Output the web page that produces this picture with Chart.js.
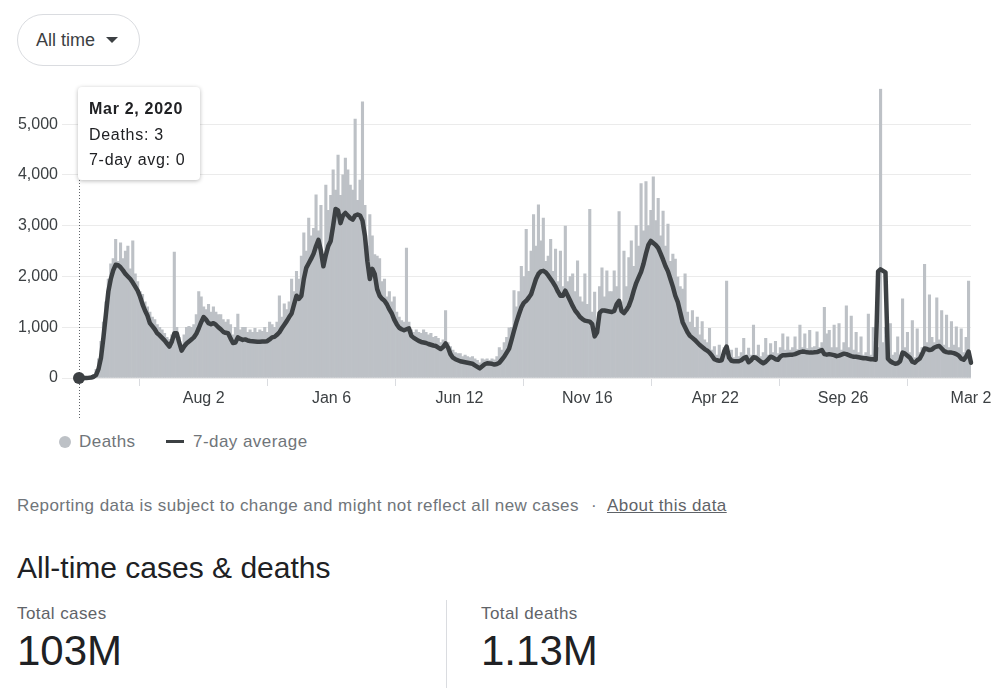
<!DOCTYPE html>
<html>
<head>
<meta charset="utf-8">
<title>Deaths</title>
<script src="https://cdn.jsdelivr.net/npm/chart.js@4.4.0/dist/chart.umd.min.js"></script>
<style>
  body {
    margin: 0;
    width: 1003px;
    height: 688px;
    position: relative;
    overflow: hidden;
    background: #fff;
    font-family: Arial, 'Liberation Sans', sans-serif;
  }
  .abs { position: absolute; white-space: nowrap; line-height: 1; }
  #range {
    left: 17px; top: 14px; width: 121px; height: 50px;
    border: 1px solid #dadce0; border-radius: 26px;
  }
  #range span { position: absolute; left: 18px; top: 16px; font-size: 18px; color: #3c4043; line-height: 1; }
  #range i {
    position: absolute; left: 88px; top: 22px; width: 0; height: 0;
    border-left: 6px solid transparent; border-right: 6px solid transparent;
    border-top: 6px solid #3c4043;
  }
  #wrap { position: absolute; left: 0; top: 75px; width: 1003px; height: 347px; }
  #tip {
    position: absolute; top: 87px; display: none;
    width: 122px; box-sizing: border-box;
    padding: 9px 11px 7px 11px;
    background: #fff; border-radius: 4px;
    box-shadow: 0 1px 4px rgba(0,0,0,0.28);
    color: #202124; font-size: 16px; line-height: 25.7px; white-space: nowrap;
    letter-spacing: 0.7px;
  }
  #tip .tt-title { font-weight: bold; }
  .legend-dot { position: absolute; left: 59px; top: 436px; width: 12px; height: 12px; border-radius: 50%; }
  .legend-line { position: absolute; left: 166px; top: 440px; width: 18px; height: 3px; }
  .legend-text { font-size: 17px; color: #70757a; letter-spacing: 0.45px; }
  .note { font-size: 17px; letter-spacing: 0.42px; }
</style>
</head>
<body>

<div id="range" class="abs"><span>All time</span><i></i></div>

<div id="wrap"><canvas id="deathsChart" width="1003" height="347"></canvas></div>
<div id="tip"></div>

<div id="legend"></div>

<div class="abs note" style="left:17px; top:497px; color:#70757a;">Reporting data is subject to change and might not reflect all new cases</div>
<div class="abs note" style="left:591px; top:497px; color:#70757a;">·</div>
<div class="abs note" style="left:607px; top:497px; color:#5f6368; text-decoration:underline;">About this data</div>

<div class="abs" style="left:17px; top:553px; font-size:30px; color:#202124;">All-time cases &amp; deaths</div>

<div class="abs note" style="left:17px; top:605px; color:#5f6368;">Total cases</div>
<div class="abs" style="left:17px; top:630px; font-size:42px; color:#202124;">103M</div>

<div class="abs" style="left:446px; top:600px; width:1px; height:88px; background:#dadce0;"></div>

<div class="abs note" style="left:481px; top:605px; color:#5f6368;">Total deaths</div>
<div class="abs" style="left:481px; top:630px; font-size:42px; color:#202124;">1.13M</div>

<script>
// One value every 3 days, starting Mar 2, 2020
const startDate = new Date(2020, 2, 2);
const binDays = 3;

// Daily deaths (visual top of the bars in each 3-day step)
const deaths = [
    3, 4, 6, 9, 15, 28, 70, 170, 380, 720,
    1100, 1500, 1950, 2250, 2350, 2730, 2300, 2660, 2350, 2500,
    2600, 2150, 2700, 2050, 1900, 1700, 1650, 1500, 1400, 1300,
    1200, 1150, 1050, 1000, 950, 880, 800, 760, 850, 2480,
    1000, 800, 620, 850, 1000, 1020, 1000, 1050, 1250, 1700,
    1600, 1400, 1350, 1450, 1300, 1400, 1300, 1250, 1250, 1150,
    1100, 1150, 1050, 850, 1000, 1260, 950, 1000, 1000, 900,
    950, 900, 980, 900, 950, 920, 1000, 900, 1100, 1050,
    1000, 1100, 1620, 1200, 1460, 1350, 1500, 1950, 1700, 2100,
    1950, 2400, 2860, 2500, 3150, 2800, 2950, 3610, 2900, 3400,
    2300, 3800, 3300, 3600, 4100, 3700, 4390, 3600, 4000, 4330,
    4100, 3800, 3700, 5100, 3500, 3900, 5440, 3400, 2600, 3220,
    2800, 2430, 2400, 2350, 1900, 1950, 1600, 1700, 1500, 1600,
    1300, 1200, 1130, 1100, 2560, 1100, 950, 900, 950, 900,
    880, 950, 900, 850, 880, 800, 820, 780, 700, 750,
    1330, 700, 620, 550, 500, 480, 480, 420, 450, 420,
    400, 420, 380, 350, 300, 380, 360, 380, 350, 380,
    360, 420, 600, 550, 700, 800, 990, 1000, 1720, 1400,
    1700, 2200, 2000, 2930, 2100, 2500, 3220, 2600, 3410, 2700,
    3150, 2300, 2400, 2730, 2100, 2540, 1900, 2500, 1800, 2990,
    1900, 2000, 2050, 1700, 2310, 1600, 1500, 2050, 1450, 3320,
    1300, 1690, 1100, 1800, 2170, 1600, 2110, 1700, 1700, 2110,
    1800, 3280, 1500, 2500, 1800, 2370, 2700, 2200, 3000, 2600,
    3830, 2900, 3870, 3000, 3300, 3960, 3100, 3540, 2800, 3290,
    2600, 3030, 2300, 2440, 2340, 1990, 1800, 1750, 2050, 1300,
    1100, 1330, 1000, 1200, 850, 1110, 750, 700, 980, 550,
    620, 450, 650, 420, 600, 1910, 450, 550, 400, 590,
    420, 500, 780, 450, 590, 450, 1040, 450, 650, 420,
    500, 780, 450, 680, 500, 720, 480, 600, 870, 550,
    810, 550, 600, 810, 560, 1040, 600, 870, 580, 940,
    600, 620, 910, 600, 700, 1390, 870, 940, 600, 1040,
    600, 1070, 550, 700, 1420, 600, 1220, 550, 900, 500,
    810, 450, 500, 1260, 450, 1000, 400, 600, 5690, 700,
    1000, 500, 1070, 450, 500, 810, 450, 1560, 600, 900,
    500, 1130, 400, 970, 500, 600, 2240, 700, 1640, 800,
    700, 1580, 750, 1330, 650, 1240, 600, 1110, 650, 1010,
    600, 970, 500, 800, 1910, 300
];

// 7-day average, same steps
const avg7 = [
    0, 0, 1, 2, 5, 10, 25, 60, 180, 400,
    800, 1250, 1700, 1950, 2120, 2230, 2220, 2180, 2120, 2050,
    2000, 1950, 1880, 1800, 1720, 1600, 1450, 1330, 1230, 1080,
    1020, 960, 880, 840, 790, 740, 680, 620, 720, 880,
    880, 700, 540, 620, 680, 720, 760, 800, 870, 980,
    1100, 1200, 1150, 1080, 1060, 1080, 1050, 1000, 960, 910,
    890, 880, 780, 690, 700, 800, 770, 750, 760, 740,
    730, 725, 720, 715, 715, 720, 720, 725, 760, 800,
    810, 850, 900, 980, 1050, 1120, 1200, 1270, 1450, 1620,
    1560, 1620, 1950, 2170, 2260, 2350, 2450, 2600, 2720, 2500,
    2200, 2420, 2600, 2700, 3000, 3330, 3300, 3050, 3200, 3250,
    3200, 3150, 3120, 3200, 3220, 3200, 3100, 2800, 2300, 1950,
    2150, 2050, 1750, 1620, 1560, 1520, 1450, 1350, 1270, 1150,
    1060, 990, 960, 940, 960, 980, 830, 790, 760, 730,
    710, 700, 690, 670, 655, 640, 630, 600, 570, 610,
    680, 600, 470, 400, 370, 350, 330, 320, 310, 300,
    290, 280, 250, 220, 190, 230, 270, 290, 285, 280,
    265, 275, 300, 360, 420, 500, 580, 750, 930, 1100,
    1250, 1390, 1480, 1520, 1580, 1650, 1800, 1950, 2050, 2100,
    2110, 2080, 2020, 1950, 1880, 1800, 1700, 1620, 1620, 1720,
    1620, 1520, 1420, 1330, 1270, 1200, 1160, 1130, 1120, 1110,
    1060, 820, 900, 1280, 1330, 1330, 1320, 1310, 1300, 1320,
    1450, 1520, 1320, 1280, 1340, 1420, 1550, 1720, 1870, 1980,
    2090, 2250, 2450, 2620, 2700, 2660, 2620, 2560, 2450, 2330,
    2200, 2100, 1950, 1800, 1620, 1500, 1300, 1100, 1000, 900,
    830, 790, 750, 700, 650, 610, 570, 540, 500, 440,
    370, 350, 340, 350, 520, 620, 400, 340, 330, 330,
    330, 350, 390, 410, 310, 350, 410, 400, 360, 320,
    290, 320, 370, 420, 400, 370, 360, 420, 450, 450,
    455, 460, 460, 470, 490, 510, 520, 515, 505, 500,
    500, 505, 510, 530, 550, 470, 460, 470, 460, 450,
    430, 440, 460, 480, 470, 450, 430, 420, 420, 410,
    400, 390, 390, 380, 370, 370, 360, 2100, 2140, 2110,
    2080, 380, 330, 300, 280, 290, 330, 500, 480, 440,
    400, 320, 300, 350, 380, 470, 580, 570, 550, 560,
    600, 620, 630, 580, 530, 510, 500, 500, 490, 470,
    440, 380, 360, 420, 520, 300
];

// Axis ticks
const yTicks = [0, 1000, 2000, 3000, 4000, 5000];
const xTickDays = [153, 310, 467, 624, 781, 938, 1095];
const xTickLabels = ['Aug 2', 'Jan 6', 'Jun 12', 'Nov 16', 'Apr 22', 'Sep 26', 'Mar 2'];

const seriesNames = ['Deaths', '7-day average'];
const barColor = '#bdc1c6';
const lineColor = '#3c4043';

Chart.defaults.font.family = "Arial, 'Liberation Sans', sans-serif";

const dayOf = i => i * binDays;

function formatDate(day) {
    const d = new Date(startDate.getFullYear(), startDate.getMonth(), startDate.getDate() + day);
    return d.toLocaleDateString('en-US', { month: 'short', day: 'numeric', year: 'numeric' });
}

// HTML tooltip so it can carry a soft shadow
function renderTip(context) {
    const tip = context.tooltip;
    const el = document.getElementById('tip');
    if (tip.opacity === 0 || !tip.body) {
        el.style.display = 'none';
        return;
    }
    const lines = tip.body.map(b => b.lines.join(''));
    el.innerHTML = '<div class="tt-title">' + tip.title[0] + '</div>' +
        lines.map(l => '<div>' + l + '</div>').join('');
    el.style.display = 'block';
    const canvas = context.chart.canvas;
    el.style.left = (canvas.parentNode.offsetLeft + tip.caretX - 1) + 'px';
}

// Dotted guide under the hovered day
const guideLine = {
    id: 'guideLine',
    beforeDatasetsDraw(chart) {
        const active = chart.tooltip ? chart.tooltip.getActiveElements() : [];
        if (!active.length) return;
        const x = Math.round(active[0].element.x) + 0.5;
        const tipEl = document.getElementById('tip');
        const top = tipEl.offsetTop + tipEl.offsetHeight - chart.canvas.parentNode.offsetTop;
        const c = chart.ctx;
        c.save();
        c.strokeStyle = '#5f6368';
        c.lineWidth = 1;
        c.setLineDash([1, 2]);
        c.beginPath();
        c.moveTo(x, top);
        c.lineTo(x, chart.height - 4);
        c.stroke();
        c.restore();
    }
};

const ctx = document.getElementById('deathsChart').getContext('2d');

const chart = new Chart(ctx, {
    type: 'bar',
    data: {
        datasets: [
            {
                type: 'bar',
                label: seriesNames[0],
                data: deaths.map((v, i) => ({ x: dayOf(i), y: v })),
                backgroundColor: barColor,
                barPercentage: 1,
                categoryPercentage: 1,
                order: 1
            },
            {
                type: 'line',
                label: seriesNames[1],
                data: avg7.map((v, i) => ({ x: dayOf(i), y: v })),
                borderColor: lineColor,
                borderWidth: 4.5,
                borderJoinStyle: 'round',
                borderCapStyle: 'round',
                tension: 0,
                pointRadius: c => (c.dataIndex === 0 ? 6 : 0),
                pointHoverRadius: c => (c.dataIndex === 0 ? 6 : 0),
                pointBackgroundColor: lineColor,
                pointBorderWidth: 0,
                pointHoverBorderWidth: 0,
                clip: false,
                order: 0
            }
        ]
    },
    options: {
        responsive: false,
        animation: false,
        events: [],
        layout: {
            padding: { top: 6, right: 32, left: 0, bottom: 0 }
        },
        scales: {
            x: {
                type: 'linear',
                min: 0,
                max: dayOf(deaths.length - 1),
                offset: false,
                afterBuildTicks: s => { s.ticks = xTickDays.map(v => ({ value: v })); },
                afterFit: s => { s.height = 44; },
                ticks: {
                    autoSkip: false,
                    maxRotation: 0,
                    padding: 3,
                    color: '#3c4043',
                    font: { size: 16 },
                    callback: (v, i) => xTickLabels[i]
                },
                grid: {
                    drawOnChartArea: false,
                    drawTicks: true,
                    tickLength: 8,
                    color: '#dadce0'
                },
                border: { display: false }
            },
            y: {
                min: 0,
                max: 5700,
                afterBuildTicks: s => { s.ticks = yTicks.map(v => ({ value: v })); },
                afterFit: s => { s.width = 79; },
                ticks: {
                    padding: 4,
                    color: '#3c4043',
                    font: { size: 16 },
                    callback: v => v.toLocaleString('en-US')
                },
                grid: {
                    color: '#ebebeb',
                    drawTicks: true,
                    tickLength: 17
                },
                border: { display: false }
            }
        },
        plugins: {
            legend: { display: false },
            tooltip: {
                enabled: false,
                mode: 'index',
                intersect: false,
                external: renderTip,
                itemSort: (a, b) => a.datasetIndex - b.datasetIndex,
                callbacks: {
                    title: items => formatDate(items[0].parsed.x),
                    label: item => item.datasetIndex === 0
                        ? 'Deaths: ' + item.parsed.y.toLocaleString('en-US')
                        : '7-day avg: ' + item.parsed.y.toLocaleString('en-US')
                }
            }
        }
    },
    plugins: [guideLine]
});

// Legend built from the datasets
const legend = document.getElementById('legend');
chart.data.datasets.forEach((ds, i) => {
    const mark = document.createElement('div');
    mark.className = i === 0 ? 'legend-dot' : 'legend-line';
    mark.style.background = i === 0 ? ds.backgroundColor : ds.borderColor;
    legend.appendChild(mark);
    const txt = document.createElement('div');
    txt.className = 'abs legend-text';
    txt.style.left = (i === 0 ? 79 : 193) + 'px';
    txt.style.top = '433px';
    txt.textContent = ds.label;
    legend.appendChild(txt);
});

// Show the first day as in the reference
const first = chart.getDatasetMeta(0).data[0];
chart.tooltip.setActiveElements(
    [{ datasetIndex: 0, index: 0 }, { datasetIndex: 1, index: 0 }],
    { x: first.x, y: first.y }
);
chart.draw();
</script>
</body>
</html>
